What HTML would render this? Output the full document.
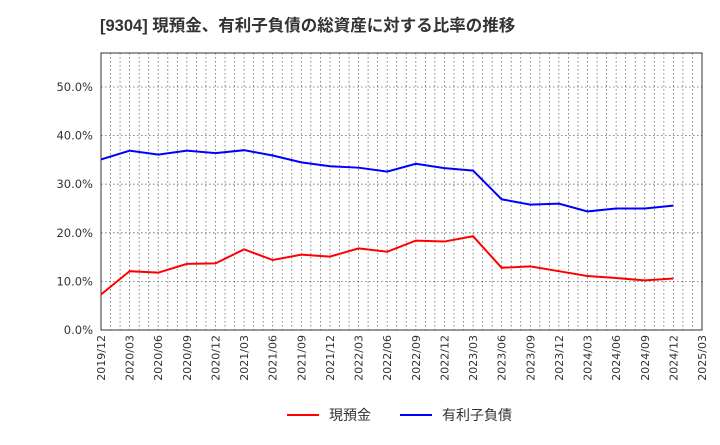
<!DOCTYPE html>
<html><head><meta charset="utf-8"><style>
body{margin:0;background:#fff;font-family:"Liberation Sans","Noto Sans CJK JP",sans-serif;}
</style></head><body>
<svg id="c" width="720" height="440" xmlns="http://www.w3.org/2000/svg">
<text x="100" y="31" font-size="16.5" font-weight="bold" fill="#333" font-family="Liberation Sans, Noto Sans CJK JP, sans-serif">[9304]  現預金、有利子負債の総資産に対する比率の推移</text>
</svg>
<script>
const categories=["2019/12","2020/03","2020/06","2020/09","2020/12","2021/03","2021/06","2021/09","2021/12","2022/03","2022/06","2022/09","2022/12","2023/03","2023/06","2023/09","2023/12","2024/03","2024/06","2024/09","2024/12","2025/03"];
const cashValues=[7.3,12.1,11.8,13.6,13.7,16.6,14.4,15.5,15.1,16.8,16.1,18.4,18.2,19.3,12.8,13.1,12.1,11.1,10.7,10.2,10.6];
const debtValues=[35.1,36.9,36.1,36.9,36.4,37.0,35.9,34.5,33.7,33.4,32.6,34.2,33.3,32.8,26.9,25.8,26.0,24.4,25.0,25.0,25.6];
const yTicks=[0,10,20,30,40,50];
const svg=document.getElementById('c');
const NS='http://www.w3.org/2000/svg';
const L=101,R=702,T=53,B=330,YMAX=57;
const TF='DejaVu Sans, sans-serif';
const xs=i=>L+(R-L)*i/(categories.length-1);
const ys=v=>B-(B-T)*v/YMAX;
function mk(t,a){const e=document.createElementNS(NS,t);for(const k in a)e.setAttribute(k,a[k]);svg.appendChild(e);return e;}
const months=(categories.length-1)*3;
for(let m=1;m<months;m++){const x=L+(R-L)*m/months;
const g=mk('line',{x1:x,x2:x,y1:T,y2:B,stroke:'#666','stroke-width':0.8,'stroke-dasharray':'1.5,2.5'});

}
yTicks.forEach(v=>{const y=ys(v);
if(v>0){const g=mk('line',{x1:L,x2:R,y1:y,y2:y,stroke:'#666','stroke-width':0.8,'stroke-dasharray':'1.5,2.5'});

}
const t=mk('text',{x:L-8,y:y+4,'text-anchor':'end','font-size':11.5,fill:'#333','font-family':TF});t.textContent=v.toFixed(1)+'%';

});
categories.forEach((c,i)=>{const x=xs(i);
const t=mk('text',{x:x+4,y:B+5,'text-anchor':'end','font-size':11,fill:'#333','font-family':TF,transform:`rotate(-90 ${x+4} ${B+5})`});t.textContent=c;

});
const fr=mk('rect',{x:L,y:T,width:R-L,height:B-T,fill:'none',stroke:'#333','stroke-width':1});


function line(vals,col,name){const p=mk('polyline',{points:vals.map((v,i)=>xs(i)+','+ys(v)).join(' '),fill:'none',stroke:col,'stroke-width':2});

}
line(cashValues,'#f00','cash-line');
line(debtValues,'#00f','debt-line');
function leg(x,col,label,name){const g=document.createElementNS(NS,'g');svg.appendChild(g);


const l=document.createElementNS(NS,'line');l.setAttribute('x1',x);l.setAttribute('x2',x+32);l.setAttribute('y1',415);l.setAttribute('y2',415);l.setAttribute('stroke',col);l.setAttribute('stroke-width',2);g.appendChild(l);
const t=document.createElementNS(NS,'text');t.setAttribute('x',x+42);t.setAttribute('y',420);t.setAttribute('font-size',14);t.setAttribute('fill','#333');t.textContent=label;g.appendChild(t);}
leg(287,'#f00','現預金','legend-cash');
leg(400,'#00f','有利子負債','legend-debt');
</script>
</body></html>
